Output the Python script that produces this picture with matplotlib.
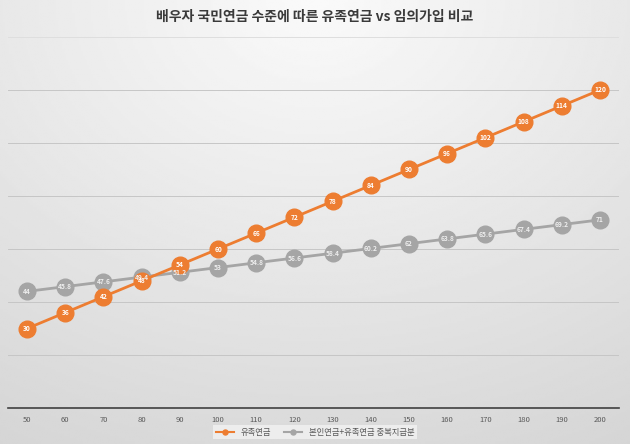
import matplotlib.pyplot as plt
import numpy as np

plt.rcParams['font.family'] = ['Noto Sans CJK KR', 'DejaVu Sans']

# 데이터
x_labels = ['50', '60', '70', '80', '90', '100', '110', '120', '130', '140',
            '150', '160', '170', '180', '190', '200']
survivor = [30, 36, 42, 48, 54, 60, 66, 72, 78, 84, 90, 96, 102, 108, 114, 120]
combined = [44, 45.8, 47.6, 49.4, 51.2, 53, 54.8, 56.6, 58.4, 60.2,
            62, 63.8, 65.6, 67.4, 69.2, 71]
series_names = ['유족연금', '본인연금+유족연금 중복지급분']

fig = plt.figure(figsize=(6.3, 4.44), dpi=100)

# 배경 그라데이션
bg = fig.add_axes([0, 0, 1, 1], zorder=-10)
yy, xx = np.mgrid[0:1:200j, 0:1:300j]
dist = np.sqrt(((xx - 0.5) * 1.0) ** 2 + ((yy - 0.0) * 0.9) ** 2)
img = 0.98 - 0.14 * np.clip(dist, 0, 1.1)
bg.imshow(img, cmap='gray', vmin=0, vmax=1, aspect='auto', extent=[0, 1, 1, 0])
bg.axis('off')

ax = fig.add_axes([8 / 630, 36 / 444, 611 / 630, 371 / 444])
ax.patch.set_alpha(0)
xs = np.arange(len(x_labels))

ax.plot(xs, combined, color='#a5a5a5', lw=2, marker='o', ms=12,
        markeredgecolor='#a5a5a5', zorder=3, label=series_names[1])
ax.plot(xs, survivor, color='#ed7d31', lw=2, marker='o', ms=12,
        markeredgecolor='#ed7d31', zorder=4, label=series_names[0])

for x, v in zip(xs, survivor):
    ax.text(x, v, f'{v:g}', ha='center', va='center', fontsize=4.8, color='white',
            fontweight='bold', zorder=6)
for x, v in zip(xs, combined):
    ax.text(x, v, f'{v:g}', ha='center', va='center', fontsize=4.8, color='#eeeeee',
            fontweight='bold', zorder=5)

ax.set_xlim(-0.5, len(x_labels) - 0.5)
ax.set_ylim(0, 140)
ax.set_yticks(np.arange(20, 141, 20))
ax.yaxis.grid(True, color='#c6c6c6', lw=0.7)
ax.get_ygridlines()[-1].set_color('#dedede')
ax.tick_params(axis='y', left=False, labelleft=False)
ax.set_xticks(xs)
ax.set_xticklabels(x_labels, fontsize=5.5, color='#595959')
ax.tick_params(axis='x', length=0, pad=6)
for s in ['top', 'right', 'left']:
    ax.spines[s].set_visible(False)
ax.spines['bottom'].set_color('#404040')
ax.spines['bottom'].set_linewidth(1.2)

handles, labels = ax.get_legend_handles_labels()
leg = fig.legend(handles[::-1], labels[::-1], loc='center', bbox_to_anchor=(0.5, 0.027),
                 ncol=2, fontsize=6, frameon=True, fancybox=False, markerscale=0.3,
                 handlelength=2.2, columnspacing=1.5, borderpad=0.3,
                 labelcolor='#595959')
leg.get_frame().set_facecolor('#f2f2f2')
leg.get_frame().set_edgecolor('none')
for h in leg.legend_handles:
    h.set_linewidth(1.5)

fig.text(0.5, 0.962, '배우자 국민연금 수준에 따른 유족연금 vs 임의가입 비교', ha='center',
         va='center', fontsize=10, fontweight='bold', color='#3a3a3a')

plt.savefig('out.png', dpi=100)
